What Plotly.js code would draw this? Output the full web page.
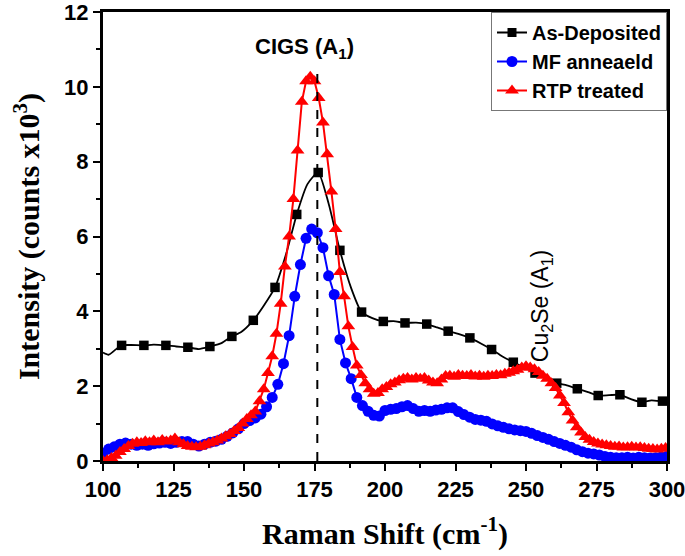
<!DOCTYPE html>
<html>
<head>
<meta charset="utf-8">
<script src="https://cdn.plot.ly/plotly-3.0.1.min.js"></script>
<style>html,body{margin:0;padding:0;background:#fff;}#chart{width:685px;height:556px;}</style>
</head>
<body>
<div id="chart"></div>
<script>
// ---- Data ----
const seriesNames = ["As-Deposited", "MF anneaeld", "RTP treated"];

// As-Deposited: continuous line
const asDepLineX = [100, 102, 104, 106.6, 110, 114.5, 118, 122.3, 126, 130.1, 134, 137.9, 142, 145.7, 149, 153.3, 157, 161.0, 165, 168.7, 172.5, 176.3, 180, 184.0, 188, 191.7, 195.5, 199.4, 203, 207.1, 211, 214.8, 218.5, 222.4, 226, 230.1, 234, 237.8, 241.5, 245.5, 249.5, 253.2, 257, 260.9, 264.5, 268.2, 272, 275.6, 279.5, 283.3, 287, 291.1, 294.5, 298.4, 300];
const asDepLineY = [2.90, 2.84, 2.95, 3.09, 3.10, 3.09, 3.11, 3.09, 3.06, 3.04, 2.99, 3.06, 3.15, 3.33, 3.45, 3.76, 4.15, 4.64, 5.55, 6.59, 7.40, 7.71, 6.88, 5.63, 4.62, 3.98, 3.82, 3.73, 3.74, 3.69, 3.70, 3.66, 3.57, 3.47, 3.40, 3.29, 3.14, 2.98, 2.80, 2.64, 2.50, 2.35, 2.20, 2.08, 2.02, 1.93, 1.84, 1.75, 1.76, 1.77, 1.66, 1.57, 1.62, 1.60, 1.64];
// As-Deposited: square markers
const asDepMarkX = [106.6, 114.5, 122.3, 130.1, 137.9, 145.7, 153.3, 161.0, 168.7, 176.3, 184.0, 191.7, 199.4, 207.1, 214.8, 222.4, 230.1, 237.8, 245.5, 253.2, 260.9, 268.2, 275.6, 283.3, 291.1, 298.4];
const asDepMarkY = [3.09, 3.09, 3.09, 3.04, 3.06, 3.33, 3.76, 4.64, 6.59, 7.71, 5.63, 3.98, 3.73, 3.69, 3.66, 3.47, 3.29, 2.98, 2.64, 2.35, 2.08, 1.93, 1.75, 1.77, 1.57, 1.60];

// MF annealed
const mfX = [100, 102, 104, 106, 108, 110, 112, 114, 116, 118, 120, 122, 124, 126, 128, 130, 132, 134, 136, 138, 140, 142, 144, 146, 148, 150, 152, 154, 156, 158, 160, 162, 164, 166, 168, 170, 172, 174, 176, 178, 180, 182, 184, 186, 188, 190, 192, 194, 196, 198, 200, 202, 204, 206, 208, 210, 212, 214, 216, 218, 220, 222, 224, 226, 228, 230, 232, 234, 236, 238, 240, 242, 244, 246, 248, 250, 252, 254, 256, 258, 260, 262, 264, 266, 268, 270, 272, 274, 276, 278, 280, 282, 284, 286, 288, 290, 292, 294, 296, 298, 300];
const mfY = [0.20, 0.32, 0.38, 0.45, 0.48, 0.45, 0.42, 0.45, 0.42, 0.46, 0.48, 0.50, 0.47, 0.50, 0.52, 0.52, 0.45, 0.40, 0.45, 0.50, 0.53, 0.58, 0.66, 0.75, 0.86, 1.00, 1.08, 1.15, 1.25, 1.45, 1.70, 2.05, 2.60, 3.35, 4.40, 5.25, 5.95, 6.20, 6.10, 5.70, 4.95, 4.45, 3.25, 2.62, 2.20, 1.70, 1.48, 1.33, 1.22, 1.20, 1.35, 1.38, 1.40, 1.45, 1.48, 1.40, 1.33, 1.35, 1.33, 1.36, 1.38, 1.42, 1.42, 1.32, 1.24, 1.17, 1.11, 1.09, 1.06, 0.99, 0.94, 0.90, 0.86, 0.83, 0.81, 0.79, 0.74, 0.68, 0.63, 0.58, 0.52, 0.47, 0.42, 0.37, 0.30, 0.25, 0.21, 0.19, 0.16, 0.12, 0.10, 0.09, 0.09, 0.10, 0.08, 0.10, 0.09, 0.08, 0.09, 0.11, 0.13];

// RTP treated
const rtpX = [100, 101.5, 103, 104.5, 106, 107.5, 109, 110.5, 112, 113.5, 115, 116.5, 118, 119.5, 121, 122.5, 124, 125.5, 127, 128.5, 130, 131.5, 133, 134.5, 136, 137.5, 139, 140.5, 142, 143.5, 145, 146.5, 148, 149.5, 151, 152.5, 154, 155.5, 157, 158.5, 160, 161.5, 163, 164.5, 166, 167.5, 169, 170.5, 172, 173.5, 175, 176.5, 178, 179.5, 181, 182.5, 184, 185.5, 187, 188.5, 190, 191.5, 193, 194.5, 196, 197.5, 199, 200.5, 202, 203.5, 205, 206.5, 208, 209.5, 211, 212.5, 214, 215.5, 217, 218.5, 220, 221.5, 223, 224.5, 226, 227.5, 229, 230.5, 232, 233.5, 235, 236.5, 238, 239.5, 241, 242.5, 244, 245.5, 247, 248.5, 250, 251.5, 253, 254.5, 256, 257.5, 259, 260.5, 262, 263.5, 265, 266.5, 268, 269.5, 271, 272.5, 274, 275.5, 277, 278.5, 280, 281.5, 283, 284.5, 286, 287.5, 289, 290.5, 292, 293.5, 295, 296.5, 298, 299.5];
const rtpY = [0.00, 0.02, 0.08, 0.14, 0.24, 0.32, 0.40, 0.46, 0.50, 0.48, 0.53, 0.50, 0.55, 0.50, 0.56, 0.52, 0.55, 0.60, 0.50, 0.45, 0.40, 0.38, 0.37, 0.38, 0.42, 0.47, 0.50, 0.55, 0.60, 0.66, 0.72, 0.80, 0.88, 1.00, 1.12, 1.22, 1.32, 1.60, 1.92, 2.35, 2.80, 3.40, 4.20, 5.20, 6.00, 7.00, 8.30, 9.60, 10.15, 10.27, 10.15, 9.70, 9.05, 8.20, 7.20, 6.20, 5.05, 4.40, 3.60, 3.05, 2.55, 2.30, 2.08, 1.92, 1.80, 1.82, 1.92, 1.98, 2.05, 2.10, 2.16, 2.20, 2.22, 2.18, 2.22, 2.20, 2.22, 2.15, 2.10, 2.08, 2.18, 2.27, 2.28, 2.25, 2.30, 2.28, 2.27, 2.30, 2.26, 2.28, 2.25, 2.28, 2.27, 2.30, 2.29, 2.33, 2.36, 2.40, 2.44, 2.50, 2.53, 2.50, 2.45, 2.38, 2.28, 2.20, 2.08, 1.95, 1.75, 1.55, 1.30, 1.08, 0.90, 0.76, 0.64, 0.57, 0.51, 0.47, 0.44, 0.42, 0.40, 0.38, 0.39, 0.36, 0.37, 0.38, 0.36, 0.37, 0.35, 0.33, 0.32, 0.31, 0.33, 0.35];

const xTickVals = [100, 125, 150, 175, 200, 225, 250, 275, 300];
const yTickVals = [0, 2, 4, 6, 8, 10, 12];
const peakCIGS = 176;

const FONT = "Liberation Sans, Arial, sans-serif";
const SERIF = "Liberation Serif, Times New Roman, serif";

const traces = [
  // legend entry for As-Deposited
  {x: [null], y: [null], type: "scatter", mode: "lines+markers", name: seriesNames[0],
   line: {color: "#000000", width: 2}, marker: {symbol: "square", size: 9, color: "#000000"}},
  {x: asDepLineX, y: asDepLineY, type: "scatter", mode: "lines", showlegend: false,
   line: {color: "#000000", width: 1.8, shape: "spline", smoothing: 0.6}, hoverinfo: "skip"},
  {x: asDepMarkX, y: asDepMarkY, type: "scatter", mode: "markers", showlegend: false,
   marker: {symbol: "square", size: 9.5, color: "#000000"}},
  {x: mfX, y: mfY, type: "scatter", mode: "lines+markers", name: seriesNames[1],
   line: {color: "#0000FF", width: 2}, marker: {symbol: "circle", size: 11, color: "#0000FF"}},
  {x: rtpX, y: rtpY, type: "scatter", mode: "lines+markers", name: seriesNames[2],
   line: {color: "#FF0000", width: 2}, marker: {symbol: "triangle-up", size: 12, color: "#FF0000"}}
];

const axisCommon = {
  showline: true, mirror: true, linecolor: "#000", linewidth: 3,
  ticks: "outside", ticklen: 7, tickwidth: 2, tickcolor: "#000",
  showgrid: false, zeroline: false, ticklabeloverflow: "allow",
  tickfont: {family: FONT, size: 22, color: "#000", weight: "bold"}
};

const layout = {
  width: 685, height: 556,
  margin: {l: 103, r: 18, t: 12, b: 95},
  paper_bgcolor: "#fff", plot_bgcolor: "#fff",
  showlegend: true,
  legend: {x: 1, xanchor: "right", y: 1, yanchor: "top", bgcolor: "#fff",
           bordercolor: "#777", borderwidth: 1, tracegroupgap: 0,
           font: {family: FONT, size: 20, color: "#000", weight: "bold"}},
  xaxis: Object.assign({}, axisCommon, {
    range: [100, 300], tickvals: xTickVals, ticktext: xTickVals.map(String),
    minor: {dtick: 12.5, tick0: 100, ticks: "outside", ticklen: 4, tickwidth: 2, tickcolor: "#000"},
    title: {text: "Raman Shift (cm<sup>-1</sup>)", font: {family: SERIF, size: 30, color: "#000", weight: "bold"}, standoff: 22}
  }),
  yaxis: Object.assign({}, axisCommon, {
    range: [0, 12], tickvals: yTickVals, ticktext: yTickVals.map(String),
    minor: {dtick: 1, tick0: 0, ticks: "outside", ticklen: 4, tickwidth: 2, tickcolor: "#000"},
    title: {text: "Intensity (counts x10<sup>3</sup>)", font: {family: SERIF, size: 30, color: "#000", weight: "bold"}, standoff: 16}
  }),
  shapes: [
    {type: "line", xref: "x", yref: "y", x0: peakCIGS, x1: peakCIGS, y0: 0, y1: 10.55,
     line: {color: "#000", width: 2, dash: "dash"}}
  ],
  annotations: [
    {x: 171.5, y: 11.05, xref: "x", yref: "y", text: "CIGS (A<sub>1</sub>)", showarrow: false,
     font: {family: FONT, size: 22, color: "#000", weight: "bold"}},
    {x: 255.5, y: 4.15, xref: "x", yref: "y", text: "Cu<sub>2</sub>Se (A<sub>1</sub>)", showarrow: false,
     textangle: -90, font: {family: FONT, size: 23, color: "#000"}}
  ]
};

Plotly.newPlot("chart", traces, layout, {displayModeBar: false, staticPlot: true});
</script>
</body>
</html>
